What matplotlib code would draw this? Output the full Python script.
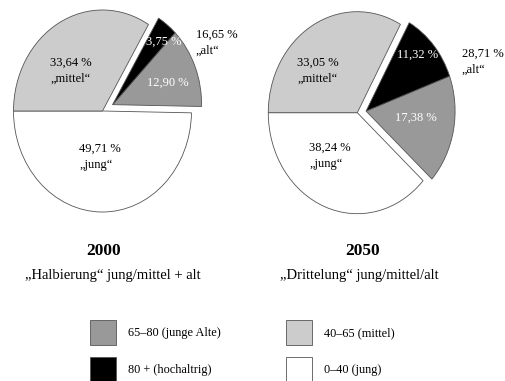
import numpy as np
import matplotlib
matplotlib.use("Agg")
import matplotlib.pyplot as plt
from matplotlib.patches import Patch

plt.rcParams['font.family'] = ['Liberation Serif', 'DejaVu Serif']

# Reihenfolge gegen den Uhrzeigersinn ab 180°: jung, junge Alte, hochaltrig, mittel
groups = ["0–40 (jung)", "65–80 (junge Alte)", "80 + (hochaltrig)", "40–65 (mittel)"]
colors = ["#ffffff", "#999999", "#000000", "#cccccc"]
share_2000 = [49.71, 12.90, 3.75, 33.64]
share_2050 = [38.24, 17.38, 11.32, 33.05]
alt_2000 = 16.65
alt_2050 = 28.71

W, H = 505, 381
fig = plt.figure(figsize=(W / 100, H / 100), dpi=100)


def px(x, y):
    return x / W, 1 - y / H


def fmt(v):
    return f"{v:.2f}".replace(".", ",") + " %"


def draw_pie(values, cx, cy, x0, x1, explode_d):
    rx, ry = 89, 101
    y0, y1 = 0, 232
    ax = fig.add_axes([x0 / W, 1 - y1 / H, (x1 - x0) / W, (y1 - y0) / H])
    wedges, _ = ax.pie(values, colors=colors, startangle=180, counterclock=True,
                       wedgeprops=dict(edgecolor='#555555', linewidth=0.6))
    # "alt" (65-80 und 80+) gemeinsam herausruecken
    mid = np.deg2rad((wedges[1].theta1 + wedges[2].theta2) / 2)
    for w in wedges[1:3]:
        w.set_center((explode_d * np.cos(mid), explode_d * np.sin(mid)))
    ax.set_xlim((x0 - cx) / rx, (x1 - cx) / rx)
    ax.set_ylim((cy - y1) / ry, (cy - y0) / ry)
    ax.set_aspect('auto')
    ax.axis('off')
    return ax


draw_pie(share_2000, 102.5, 111, 0, 252, 0.13)
draw_pie(share_2050, 357.3, 112.7, 253, 505, 0.10)

lab = dict(fontsize=9, va='center')

# 2000
fig.text(*px(71, 71), f"{fmt(share_2000[3])}\n„mittel“", ha='center', multialignment='left', linespacing=1.4, **lab)
fig.text(*px(100, 157), f"{fmt(share_2000[0])}\n„jung“", ha='center', multialignment='left', linespacing=1.4, **lab)
fig.text(*px(168, 83), fmt(share_2000[1]), ha='center', color='white', **lab)
fig.text(*px(164, 42), fmt(share_2000[2]), ha='center', color='white', **lab)
fig.text(*px(196, 43), f"{fmt(alt_2000)}\n„alt“", ha='left', linespacing=1.4, **lab)

# 2050
fig.text(*px(318, 71), f"{fmt(share_2050[3])}\n„mittel“", ha='center', multialignment='left', linespacing=1.4, **lab)
fig.text(*px(330, 156), f"{fmt(share_2050[0])}\n„jung“", ha='center', multialignment='left', linespacing=1.4, **lab)
fig.text(*px(416, 118), fmt(share_2050[1]), ha='center', color='white', **lab)
fig.text(*px(418, 55), fmt(share_2050[2]), ha='center', color='white', **lab)
fig.text(*px(462, 62), f"{fmt(alt_2050)}\n„alt“", ha='left', linespacing=1.4, **lab)

# Titel
fig.text(*px(104, 251), "2000", ha='center', va='center', fontsize=12.5, fontweight='bold')
fig.text(*px(113, 276), "„Halbierung“ jung/mittel + alt", ha='center', va='center', fontsize=10.5)
fig.text(*px(363, 251), "2050", ha='center', va='center', fontsize=12.5, fontweight='bold')
fig.text(*px(359, 276), "„Drittelung“ jung/mittel/alt", ha='center', va='center', fontsize=10.5)

# Legende
handles = [Patch(facecolor=c, edgecolor='#555555', linewidth=0.6) for c in colors]
leg_kw = dict(frameon=False, fontsize=8.8, handlelength=2.13, handleheight=2.77,
              handletextpad=0.95, labelspacing=0.95, borderpad=0, borderaxespad=0,
              loc='upper left')
fig.legend([handles[1], handles[2]], [groups[1], groups[2]],
           bbox_to_anchor=px(90, 320), **leg_kw)
fig.legend([handles[3], handles[0]], [groups[3], groups[0]],
           bbox_to_anchor=px(286, 320), **leg_kw)

fig.savefig("out.png", dpi=100)
